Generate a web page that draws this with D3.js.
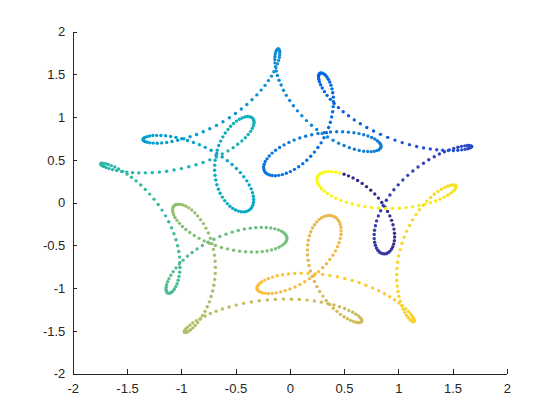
<!DOCTYPE html>
<html><head><meta charset="utf-8">
<script src="https://cdn.jsdelivr.net/npm/d3@7"></script>
<style>html,body{margin:0;padding:0;background:#fff;}svg{display:block;}</style>
</head><body>
<svg id="chart" width="560" height="420"></svg>
<script>
// point coordinates along the curve, in drawing order (colour follows this order)
const xValues = [
.5,.541,.583,.625,.667,.707,.746,.783,.817,.848,.876,.901,.922,.938,.951,.960,.965,.966,.964,.958,
.949,.938,.924,.909,.893,.876,.859,.842,.826,.812,.799,.789,.782,.778,.778,.781,.789,.800,.816,.837,
.861,.890,.923,.959,.999,1.042,1.087,1.134,1.182,1.232,1.281,1.331,1.379,1.425,1.470,1.511,1.549,1.582,1.612,1.636,
1.655,1.668,1.675,1.676,1.670,1.659,1.640,1.616,1.585,1.549,1.508,1.461,1.409,1.354,1.295,1.233,1.169,1.103,1.036,.969,
.902,.836,.772,.710,.650,.594,.541,.492,.448,.409,.374,.344,.319,.299,.284,.273,.267,.265,.266,.271,
.279,.289,.301,.314,.328,.342,.355,.368,.379,.389,.396,.401,.402,.400,.395,.386,.374,.358,.338,.315,
.289,.259,.227,.193,.157,.120,.082,.043,.005,-.032,-.068,-.102,-.133,-.162,-.186,-.207,-.223,-.234,-.240,-.241,
-.236,-.226,-.210,-.189,-.163,-.131,-.094,-.053,-.008,.040,.092,.146,.202,.260,.317,.375,.432,.487,.540,.591,
.638,.681,.720,.754,.783,.806,.824,.835,.841,.840,.833,.821,.803,.779,.751,.718,.681,.640,.595,.549,
.5,.450,.399,.348,.298,.248,.200,.154,.111,.070,.033,-.001,-.032,-.058,-.080,-.099,-.114,-.125,-.132,-.137,
-.138,-.137,-.134,-.129,-.123,-.116,-.109,-.103,-.098,-.094,-.092,-.093,-.096,-.103,-.114,-.128,-.147,-.169,-.197,-.228,
-.264,-.304,-.348,-.396,-.447,-.501,-.557,-.616,-.676,-.737,-.798,-.859,-.919,-.977,-1.033,-1.086,-1.135,-1.181,-1.222,-1.258,
-1.289,-1.314,-1.333,-1.346,-1.352,-1.352,-1.346,-1.334,-1.316,-1.292,-1.262,-1.227,-1.188,-1.145,-1.098,-1.049,-.997,-.943,-.888,-.833,
-.779,-.725,-.673,-.623,-.576,-.532,-.492,-.455,-.424,-.396,-.374,-.356,-.344,-.336,-.333,-.335,-.341,-.351,-.365,-.382,
-.402,-.424,-.448,-.474,-.500,-.526,-.552,-.577,-.600,-.622,-.642,-.658,-.672,-.682,-.689,-.693,-.692,-.688,-.680,-.669,
-.655,-.637,-.617,-.595,-.570,-.545,-.519,-.492,-.465,-.440,-.415,-.393,-.373,-.357,-.344,-.335,-.330,-.330,-.335,-.346,
-.361,-.383,-.410,-.442,-.480,-.522,-.570,-.622,-.677,-.737,-.799,-.864,-.931,-.999,-1.067,-1.135,-1.202,-1.268,-1.331,-1.392,
-1.449,-1.502,-1.551,-1.595,-1.634,-1.667,-1.694,-1.716,-1.731,-1.740,-1.742,-1.739,-1.731,-1.717,-1.697,-1.673,-1.645,-1.613,-1.578,-1.540,
-1.5,-1.459,-1.417,-1.374,-1.332,-1.291,-1.251,-1.213,-1.178,-1.145,-1.116,-1.090,-1.068,-1.049,-1.034,-1.023,-1.016,-1.012,-1.012,-1.015,
-1.021,-1.029,-1.039,-1.051,-1.063,-1.077,-1.090,-1.103,-1.115,-1.125,-1.133,-1.138,-1.141,-1.140,-1.135,-1.126,-1.114,-1.096,-1.075,-1.049,
-1.018,-.983,-.944,-.901,-.855,-.806,-.754,-.700,-.645,-.588,-.531,-.475,-.419,-.365,-.313,-.263,-.217,-.175,-.138,-.105,
-.077,-.056,-.040,-.030,-.026,-.028,-.037,-.052,-.073,-.099,-.131,-.168,-.209,-.254,-.302,-.354,-.407,-.462,-.518,-.574,
-.630,-.685,-.738,-.789,-.836,-.881,-.922,-.958,-.990,-1.018,-1.040,-1.058,-1.070,-1.078,-1.080,-1.078,-1.071,-1.061,-1.046,-1.028,
-1.007,-.983,-.958,-.931,-.904,-.876,-.849,-.822,-.796,-.773,-.751,-.732,-.716,-.704,-.694,-.688,-.686,-.687,-.692,-.700,
-.711,-.726,-.742,-.761,-.782,-.804,-.827,-.849,-.872,-.893,-.914,-.932,-.947,-.959,-.968,-.972,-.972,-.967,-.957,-.941,
-.920,-.894,-.862,-.824,-.781,-.732,-.679,-.621,-.560,-.494,-.426,-.354,-.282,-.207,-.133,-.058,.016,.088,.159,.226,
.291,.351,.407,.458,.505,.545,.580,.609,.632,.648,.659,.664,.663,.657,.646,.631,.611,.587,.560,.531,
.5,.467,.434,.401,.368,.335,.305,.276,.250,.227,.207,.190,.178,.169,.163,.162,.165,.171,.181,.194,
.209,.228,.248,.270,.293,.317,.341,.364,.386,.407,.426,.442,.455,.465,.471,.473,.472,.465,.455,.440,
.420,.397,.369,.338,.303,.265,.224,.182,.138,.093,.048,.002,-.042,-.084,-.125,-.162,-.196,-.226,-.252,-.273,
-.289,-.299,-.303,-.301,-.292,-.278,-.257,-.230,-.197,-.159,-.115,-.066,-.013,.045,.105,.169,.235,.302,.370,.439,
.507,.574,.639,.702,.762,.819,.872,.921,.966,1.006,1.040,1.070,1.095,1.115,1.130,1.140,1.145,1.147,1.145,1.139,
1.130,1.119,1.106,1.092,1.076,1.061,1.045,1.031,1.018,1.006,.997,.990,.986,.986,.988,.994,1.004,1.017,1.034,1.054,
1.077,1.104,1.132,1.163,1.195,1.229,1.264,1.298,1.332,1.366,1.397,1.427,1.454,1.477,1.497,1.513,1.525,1.531,1.532,1.528,
1.518,1.503,1.481,1.455,1.423,1.385,1.343,1.296,1.245,1.190,1.133,1.072,1.010,.946,.882,.818,.754,.692,.632,.575,
.521,.470,.424,.383,.347,.316,.291,.272,.259,.251,.250,.254,.265,.280,.300,.325,.354,.386,.422,.460
];
const yValues = [
.333,.313,.289,.259,.225,.187,.146,.101,.053,.003,-.049,-.102,-.155,-.207,-.259,-.309,-.357,-.402,-.444,-.482,
-.515,-.543,-.566,-.583,-.594,-.599,-.597,-.590,-.576,-.556,-.530,-.498,-.462,-.420,-.373,-.323,-.270,-.213,-.155,-.094,
-.033,.028,.090,.150,.208,.265,.319,.370,.417,.461,.501,.536,.568,.594,.617,.634,.648,.658,.664,.667,
.667,.664,.659,.653,.646,.638,.630,.623,.617,.612,.609,.609,.612,.618,.627,.640,.657,.678,.702,.731,
.763,.798,.837,.878,.922,.967,1.015,1.063,1.111,1.160,1.207,1.253,1.297,1.339,1.377,1.412,1.442,1.467,1.488,1.503,
1.512,1.516,1.513,1.505,1.490,1.469,1.442,1.410,1.373,1.330,1.284,1.233,1.179,1.122,1.063,1.002,.940,.879,.818,.758,
.699,.644,.591,.542,.496,.456,.420,.389,.363,.343,.328,.319,.315,.317,.323,.335,.350,.370,.394,.420,
.449,.480,.512,.545,.579,.612,.644,.675,.704,.731,.755,.776,.793,.808,.818,.825,.829,.828,.824,.817,
.807,.794,.779,.762,.744,.724,.704,.685,.666,.648,.632,.619,.608,.600,.596,.597,.601,.610,.624,.643,
.667,.695,.729,.767,.809,.855,.905,.959,1.015,1.073,1.132,1.193,1.254,1.314,1.374,1.431,1.487,1.539,1.588,1.633,
1.673,1.708,1.738,1.762,1.780,1.791,1.797,1.795,1.788,1.774,1.755,1.729,1.698,1.662,1.622,1.578,1.530,1.479,1.426,1.371,
1.315,1.259,1.203,1.147,1.094,1.042,.992,.946,.903,.864,.828,.797,.770,.747,.729,.714,.704,.698,.695,.696,
.699,.705,.713,.722,.732,.743,.754,.763,.772,.779,.784,.786,.785,.781,.773,.762,.747,.727,.704,.677,
.646,.612,.574,.534,.491,.446,.399,.351,.303,.255,.207,.161,.117,.075,.036,.001,-.029,-.056,-.077,-.093,
-.103,-.108,-.107,-.099,-.086,-.067,-.042,-.011,.024,.065,.109,.158,.210,.264,.321,.379,.438,.496,.555,.612,
.667,.719,.769,.814,.856,.893,.926,.953,.974,.990,1.001,1.006,1.005,.999,.988,.972,.951,.927,.899,.867,
.833,.797,.759,.721,.682,.643,.605,.568,.533,.500,.470,.443,.419,.398,.381,.367,.357,.351,.348,.348,
.351,.357,.365,.375,.386,.398,.410,.422,.433,.443,.451,.457,.460,.459,.455,.446,.433,.416,.393,.366,
.333,.296,.254,.207,.155,.100,.041,-.022,-.087,-.154,-.223,-.293,-.364,-.434,-.503,-.570,-.636,-.698,-.757,-.812,
-.862,-.907,-.947,-.981,-1.009,-1.032,-1.047,-1.056,-1.060,-1.057,-1.048,-1.033,-1.013,-.988,-.958,-.925,-.888,-.848,-.806,-.762,
-.717,-.672,-.627,-.583,-.541,-.501,-.463,-.428,-.396,-.368,-.344,-.325,-.309,-.298,-.292,-.289,-.291,-.296,-.306,-.318,
-.333,-.351,-.371,-.392,-.414,-.437,-.459,-.481,-.502,-.521,-.538,-.552,-.564,-.572,-.576,-.577,-.574,-.567,-.556,-.542,
-.523,-.501,-.476,-.447,-.417,-.384,-.349,-.314,-.278,-.242,-.207,-.173,-.141,-.112,-.086,-.063,-.045,-.031,-.022,-.018,
-.020,-.028,-.041,-.061,-.086,-.118,-.155,-.198,-.245,-.298,-.355,-.416,-.480,-.546,-.615,-.685,-.756,-.827,-.897,-.966,
-1.033,-1.097,-1.159,-1.216,-1.270,-1.319,-1.363,-1.401,-1.435,-1.463,-1.485,-1.501,-1.512,-1.518,-1.518,-1.513,-1.504,-1.491,-1.474,-1.454,
-1.431,-1.406,-1.379,-1.352,-1.324,-1.296,-1.269,-1.243,-1.219,-1.197,-1.177,-1.161,-1.147,-1.137,-1.130,-1.127,-1.128,-1.132,-1.139,-1.149,
-1.163,-1.178,-1.196,-1.216,-1.237,-1.259,-1.281,-1.303,-1.323,-1.343,-1.360,-1.375,-1.387,-1.396,-1.401,-1.402,-1.398,-1.389,-1.376,-1.357,
-1.333,-1.305,-1.271,-1.233,-1.190,-1.143,-1.092,-1.038,-.981,-.921,-.860,-.798,-.735,-.673,-.612,-.552,-.494,-.439,-.387,-.340,
-.297,-.258,-.225,-.198,-.177,-.161,-.152,-.149,-.153,-.162,-.177,-.198,-.224,-.255,-.291,-.330,-.373,-.418,-.465,-.515,
-.565,-.615,-.665,-.714,-.761,-.806,-.849,-.888,-.924,-.957,-.985,-1.009,-1.028,-1.043,-1.054,-1.060,-1.062,-1.060,-1.054,-1.045,
-1.033,-1.018,-1.001,-.983,-.964,-.944,-.924,-.905,-.886,-.870,-.855,-.843,-.833,-.827,-.824,-.825,-.830,-.838,-.850,-.866,
-.886,-.909,-.935,-.964,-.996,-1.029,-1.064,-1.100,-1.136,-1.172,-1.207,-1.241,-1.273,-1.302,-1.328,-1.350,-1.368,-1.381,-1.389,-1.392,
-1.389,-1.380,-1.365,-1.344,-1.317,-1.284,-1.246,-1.201,-1.151,-1.097,-1.038,-.975,-.909,-.840,-.768,-.696,-.622,-.549,-.475,-.404,
-.333,-.266,-.201,-.140,-.083,-.030,.018,.060,.098,.129,.156,.176,.192,.202,.207,.207,.202,.194,.182,.167,
.149,.129,.108,.086,.064,.041,.020,.000,-.018,-.034,-.048,-.058,-.065,-.069,-.069,-.066,-.058,-.048,-.034,-.016,
.004,.027,.052,.079,.108,.137,.166,.196,.224,.252,.277,.300,.320,.337,.350,.359,.363,.363,.358,.348
];
const xTickValues = [-2,-1.5,-1,-0.5,0,0.5,1,1.5,2];
const xTickLabels = ["-2","-1.5","-1","-0.5","0","0.5","1","1.5","2"];
const yTickValues = [-2,-1.5,-1,-0.5,0,0.5,1,1.5,2];
const yTickLabels = ["-2","-1.5","-1","-0.5","0","0.5","1","1.5","2"];

// parula colormap (64 entries)
const parula = [
[0.2081,0.1663,0.5292],[0.2116,0.1898,0.5777],[0.2123,0.2138,0.6270],[0.2081,0.2386,0.6771],[0.1959,0.2645,0.7279],[0.1707,0.2919,0.7792],[0.1253,0.3242,0.8303],[0.0591,0.3598,0.8683],
[0.0117,0.3875,0.8820],[0.0060,0.4086,0.8828],[0.0165,0.4266,0.8786],[0.0329,0.4430,0.8720],[0.0498,0.4586,0.8641],[0.0629,0.4737,0.8554],[0.0723,0.4887,0.8467],[0.0779,0.5040,0.8384],
[0.0793,0.5200,0.8312],[0.0749,0.5375,0.8263],[0.0641,0.5570,0.8240],[0.0488,0.5772,0.8228],[0.0343,0.5966,0.8199],[0.0265,0.6137,0.8135],[0.0239,0.6287,0.8038],[0.0231,0.6418,0.7913],
[0.0228,0.6535,0.7768],[0.0267,0.6642,0.7607],[0.0384,0.6743,0.7436],[0.0590,0.6838,0.7254],[0.0843,0.6928,0.7062],[0.1133,0.7015,0.6859],[0.1453,0.7098,0.6646],[0.1801,0.7177,0.6424],
[0.2178,0.7250,0.6193],[0.2586,0.7317,0.5954],[0.3022,0.7376,0.5712],[0.3482,0.7424,0.5473],[0.3953,0.7459,0.5244],[0.4420,0.7481,0.5033],[0.4871,0.7491,0.4840],[0.5300,0.7491,0.4661],
[0.5709,0.7485,0.4494],[0.6099,0.7473,0.4337],[0.6473,0.7456,0.4188],[0.6834,0.7435,0.4044],[0.7184,0.7411,0.3905],[0.7525,0.7384,0.3768],[0.7858,0.7356,0.3633],[0.8185,0.7327,0.3498],
[0.8507,0.7299,0.3360],[0.8824,0.7274,0.3217],[0.9139,0.7258,0.3063],[0.9450,0.7261,0.2886],[0.9739,0.7314,0.2666],[0.9938,0.7455,0.2403],[0.9990,0.7653,0.2164],[0.9955,0.7861,0.1967],
[0.9880,0.8066,0.1794],[0.9789,0.8271,0.1633],[0.9697,0.8481,0.1475],[0.9626,0.8705,0.1309],[0.9589,0.8949,0.1132],[0.9598,0.9218,0.0948],[0.9661,0.9514,0.0755],[0.9763,0.9831,0.0538]
];

const W = 560, H = 420;
const plotLeft = 72.8, plotRight = 506.8, plotTop = 31.5, plotBottom = 373.8;
const axisColor = "#262626";
const fontFamily = "'Liberation Sans', Arial, Helvetica, sans-serif";

const svg = d3.select("#chart");
svg.append("rect").attr("width", W).attr("height", H).attr("fill", "#fff");

const x = d3.scaleLinear().domain([-2, 2]).range([plotLeft, plotRight]);
const y = d3.scaleLinear().domain([-2, 2]).range([plotBottom, plotTop]);

const points = xValues.map((v, i) => ({x: v, y: yValues[i], order: i}));
const color = d3.scaleQuantize()
  .domain([0, points.length - 1])
  .range(parula.map(c => d3.rgb(c[0] * 255, c[1] * 255, c[2] * 255).formatHex()));

// axes
const xAxis = d3.axisBottom(x)
  .tickValues(xTickValues)
  .tickFormat((d, i) => xTickLabels[i])
  .tickSizeInner(-4.3).tickSizeOuter(0).tickPadding(10);
const yAxis = d3.axisLeft(y)
  .tickValues(yTickValues)
  .tickFormat((d, i) => yTickLabels[i])
  .tickSizeInner(-4.3).tickSizeOuter(0).tickPadding(7.5);

const gx = svg.append("g").attr("transform", `translate(0,${plotBottom})`).call(xAxis);
const gy = svg.append("g").attr("transform", `translate(${plotLeft},0)`).call(yAxis);
[gx, gy].forEach(g => {
  g.selectAll("path.domain").attr("stroke", axisColor).attr("stroke-width", 1).attr("shape-rendering", "crispEdges");
  g.selectAll(".tick line").attr("stroke", axisColor).attr("stroke-width", 1).attr("shape-rendering", "crispEdges");
  g.selectAll(".tick text").attr("fill", axisColor).attr("font-family", fontFamily).attr("font-size", 13);
});

// scatter points
svg.append("g")
  .selectAll("circle")
  .data(points)
  .join("circle")
  .attr("cx", d => x(d.x))
  .attr("cy", d => y(d.y))
  .attr("r", 1.7)
  .attr("fill", d => color(d.order));
</script>
</body></html>
